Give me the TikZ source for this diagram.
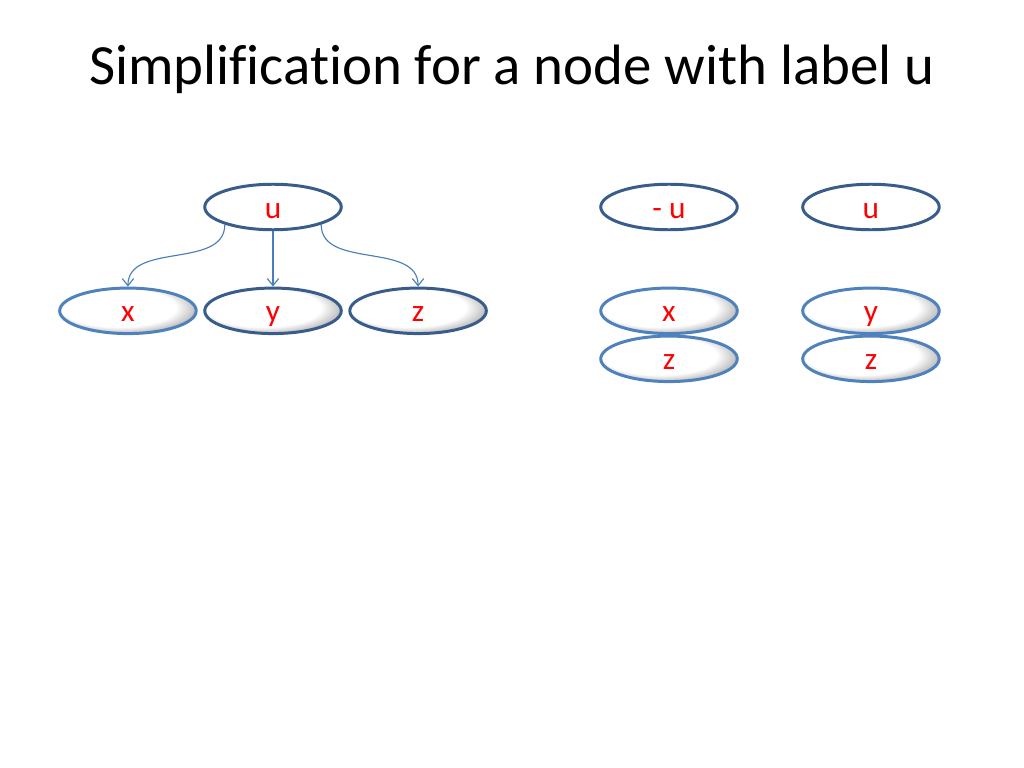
\documentclass[tikz,border=0pt]{standalone}
\usepackage{fontspec}
\setmainfont{Carlito}[Ligatures=NoCommon]
\usetikzlibrary{shapes.geometric,arrows.meta}

\definecolor{darkline}{HTML}{385D8A}
\definecolor{lightline}{HTML}{4F81BD}
\definecolor{edgeblue}{HTML}{4A7EBB}
\pgfdeclareradialshading{ovalshade}{\pgfpoint{-6bp}{6bp}}{color(0bp)=(white); color(21bp)=(white); color(34bp)=(black!50); color(50bp)=(black!50)}

\tikzstyle{every node}=[ellipse, inner sep=0pt, minimum width=96pt, minimum height=32pt,
  line width=2.1pt, text=red, text height=17pt, text depth=1.5pt, font=\fontsize{22}{26}\selectfont]
\tikzstyle{plain}=[draw=darkline, fill=white]
\tikzstyle{shaded}=[draw=darkline, shading=ovalshade]
\tikzstyle{lshaded}=[draw=lightline, shading=ovalshade]

\begin{document}
\begin{tikzpicture}[x=0.703125pt, y=-0.703125pt, >={Straight Barb[length=5pt,width=8pt]}]
\useasboundingbox (0,0) rectangle (1024,768);

\node [draw=none, shape=rectangle, text=black, anchor=base, text height=, text depth=, font=\fontsize{40}{48}\selectfont] (T) at (512,85) {Simplification for a node with label u};

% tree
\node [plain] (U) at (273,207) {u};

\node [shaded, below of=U, node distance=73pt] (Y) {y};
\node [lshaded, left of=Y, node distance=102pt] (X) {x};
\node [shaded, right of=Y, node distance=102pt] (Z) {z};

\path [->, edgeblue, line width=0.8pt] (U.200) edge [out=-90, in=90] (X.north)
			(U) edge (Y) (U.-20) edge [out=-90, in=90] (Z.north);

% simplified
\node [plain] (MU) at (669,207) {- u};
\node [plain, right of=MU, node distance=142pt] (RU) {u};

\node [lshaded, below of=MU, node distance=73pt] (RX) {x};
\node [lshaded, below of=RX, node distance=33.75pt] (RZ1) {z};
\node [lshaded, below of=RU, node distance=73pt] (RY) {y};
\node [lshaded, below of=RY, node distance=33.75pt] (RZ2) {z};
\end{tikzpicture}
\end{document}
